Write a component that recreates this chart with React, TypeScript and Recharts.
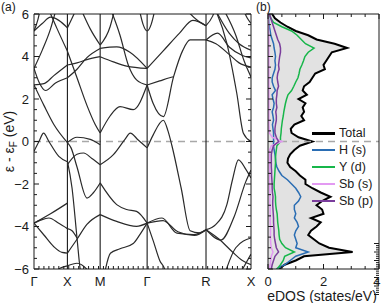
import React from 'react';
import { ComposedChart, Line, Area, XAxis, YAxis, ReferenceLine, Legend, Label } from 'recharts';

const FONT = '"Liberation Sans", Arial, Helvetica, sans-serif';
const INK = '#1a1a1a';
const BAND = '#2a2a2a';

// high-symmetry path (k in path-length units)
const kPoints = [0, 1.01, 2.0, 3.42, 5.2, 6.56];
const kLabels = ['Γ', 'X', 'M', 'Γ', 'R', 'X'];

// bands as [k, E(eV)], per path segment
const bandsGX = [
  [[0, 5.2], [0.25, 5.55], [0.5, 5.85], [0.75, 5.7], [1.01, 5.35]],
  [[0, 5.2], [0.12, 5.75], [0.2, 6.3]],
  [[0.42, 6.3], [0.7, 5.3], [1.01, 4.25]],
  [[0, 3.44], [0.25, 4.3], [0.5, 5.3], [0.68, 6.3]],
  [[0, 3.44], [0.15, 2.8], [0.35, 2.4], [0.65, 2.75], [1.01, 3.0]],
  [[0, 2.66], [0.3, 2.72], [0.6, 3.1], [1.01, 3.6]],
  [[0, 2.66], [0.3, 1.7], [0.6, 0.8], [1.01, -0.05]],
  [[0, -0.46], [0.15, 0.0], [0.29, 0.39], [0.45, 0.0], [0.75, -0.7], [1.01, -0.95]],
  [[0, -3.84], [0.5, -3.4], [1.01, -2.9]],
  [[0, -3.84], [0.2, -3.7], [0.45, -3.6], [0.75, -3.85], [1.01, -4.1]],
  [[0, -3.84], [0.3, -4.4], [0.6, -4.95], [0.85, -5.22], [1.01, -5.25]],
  [[0.6, -6.2], [0.8, -5.95], [1.01, -5.85]],
];
const bandsXM = [
  [[1.01, 5.35], [1.15, 5.8], [1.3, 6.3]],
  [[1.4, 6.3], [1.7, 5.3], [2.0, 4.54]],
  [[1.01, 4.25], [1.3, 3.0], [1.6, 1.7], [1.85, 0.8], [2.0, 0.4]],
  [[1.01, 3.6], [1.3, 3.7], [1.6, 3.85], [2.0, 3.99]],
  [[1.01, 3.0], [1.3, 3.4], [1.6, 3.95], [2.0, 4.38]],
  [[1.01, -0.05], [1.3, 0.2], [1.7, 0.1], [2.0, -0.15]],
  [[1.01, -1.09], [1.3, -0.6], [1.5, -0.54], [1.75, -0.8], [2.0, -1.09]],
  [[1.01, -0.92], [1.15, -2.19], [1.3, -4.54], [1.4, -6.05], [1.43, -6.3]],
  [[1.01, -0.05], [1.12, -0.3], [1.3, -1.2], [1.6, -2.66], [1.8, -2.4], [2.0, -1.95]],
  [[1.01, -4.1], [1.15, -4.2], [1.3, -4.54]],
  [[1.01, -5.25], [1.3, -4.6], [1.6, -3.9], [2.0, -3.44]],
  [[1.01, -5.85], [1.3, -5.73], [1.65, -6.1], [1.75, -6.3]],
];
const bandsMG = [
  [[2.0, 4.54], [2.3, 5.4], [2.45, 6.3]],
  [[2.3, 6.3], [2.6, 5.0], [2.85, 3.6], [3.1, 2.9], [3.42, 2.66]],
  [[2.0, 3.99], [2.4, 3.75], [2.8, 3.55], [3.42, 3.44]],
  [[2.0, 4.38], [2.5, 4.45], [2.9, 4.2], [3.42, 3.44]],
  [[2.0, 0.4], [2.3, 1.2], [2.6, 1.64], [3.0, 1.5], [3.42, 2.66]],
  [[2.0, -1.09], [2.4, -0.62], [2.75, 0.1], [2.91, 0.39], [3.15, 0.07], [3.42, -0.3]],
  [[2.0, -1.95], [2.5, -2.97], [2.8, -3.2], [3.1, -3.29], [3.42, -3.84]],
  [[2.0, -3.44], [2.5, -3.76], [3.1, -3.99], [3.42, -3.84]],
  [[2.12, -6.3], [2.31, -5.26], [2.6, -5.05], [3.0, -4.8], [3.2, -4.38], [3.42, -3.84]],
];
const bandsGR = [
  [[3.2, 6.1], [3.3, 5.5], [3.42, 5.2], [3.54, 5.5], [3.64, 6.1]],
  [[3.42, 3.44], [3.9, 4.25], [4.4, 5.1], [4.8, 5.7], [5.2, 5.45]],
  [[4.55, 6.3], [4.9, 5.75], [5.2, 5.45]],
  [[3.42, 2.66], [3.6, 1.8], [3.91, 1.17], [4.22, 3.05], [4.5, 4.3], [4.72, 4.78], [5.2, 4.78]],
  [[3.42, 2.66], [3.8, 2.85], [4.1, 3.0], [4.22, 3.05]],
  [[3.42, -0.3], [3.6, 0.3], [3.91, 1.0], [4.05, 0.5], [4.17, -0.2], [4.45, -2.2], [4.72, -4.2], [5.0, -4.3], [5.2, -4.15]],
  [[3.42, -3.84], [3.87, -3.6], [4.32, -4.31], [4.82, -4.38], [5.2, -4.15]],
  [[3.42, -3.84], [3.9, -3.72], [4.35, -4.25], [4.85, -4.42], [5.2, -4.15]],
  [[3.42, -3.84], [3.61, -4.7], [3.8, -5.6], [3.97, -6.1], [4.0, -6.3]],
];
const bandsRX = [
  [[5.2, 5.45], [5.4, 5.9], [5.5, 6.3]],
  [[5.2, 4.78], [5.5, 4.6], [5.9, 4.1], [6.2, 3.7], [6.56, 3.5]],
  [[5.2, 4.78], [5.55, 5.1], [5.9, 4.45], [6.3, 4.05], [6.56, 3.93]],
  [[5.45, 6.3], [5.9, 5.1], [6.2, 4.6], [6.56, 4.3]],
  [[5.45, 6.3], [5.53, 6.03], [5.83, 4.62], [6.13, 2.27], [6.33, 0.39], [6.56, 0.0]],
  [[5.7, 6.3], [6.1, 5.0], [6.35, 3.8], [6.56, 3.04]],
  [[6.3, 6.3], [6.45, 5.8], [6.56, 5.56]],
  [[5.2, -4.15], [5.5, -3.9], [5.83, -2.97], [6.0, -1.8], [6.18, -0.86], [6.4, -1.3], [6.56, -1.72]],
  [[5.2, -4.15], [5.6, -4.6], [6.0, -5.2], [6.3, -5.6], [6.56, -5.8]],
  [[5.2, -4.15], [5.65, -4.64], [6.05, -3.54], [6.4, -1.9], [6.56, -1.34]],
  [[5.75, -6.3], [6.1, -5.0], [6.56, -4.54]],
  [[6.2, -6.3], [6.56, -5.3]],
];

// density of states, states/eV
const energies = [
  -6, -5.8, -5.6, -5.4, -5.2, -5, -4.8, -4.6, -4.4, -4.2, -4, -3.8, -3.6, -3.4, -3.2, -3, -2.8, -2.6, -2.4, -2.2,
  -2, -1.8, -1.6, -1.4, -1.2, -1, -0.8, -0.6, -0.4, -0.2, 0, 0.2, 0.4, 0.6, 0.8, 1, 1.2, 1.4, 1.6, 1.8,
  2, 2.2, 2.4, 2.6, 2.8, 3, 3.2, 3.4, 3.6, 3.8, 4, 4.2, 4.4, 4.6, 4.8, 5, 5.2, 5.4, 5.6, 5.8, 6,
];
const dosTotal = [
  0.4, 0.6, 1.0, 1.3, 3.05, 2.2, 1.85, 1.65, 1.45, 1.55, 1.75, 1.9, 1.55, 2.0, 1.95, 1.75, 1.95, 2.25, 1.9, 1.6,
  1.35, 1.35, 1.15, 1.0, 0.8, 0.7, 0.72, 0.8, 0.95, 1.15, 1.6, 1.1, 0.85, 0.82, 0.95, 1.3, 1.2, 1.3, 1.25, 1.35,
  1.1, 1.4, 1.25, 1.3, 1.5, 1.6, 1.7, 2.05, 2.0, 2.1, 2.2, 2.3, 2.85, 2.4, 1.75, 1.45, 1.0, 0.7, 0.45, 0.25, 0.15,
];
const dosH = [
  0.3, 0.6, 0.8, 1.0, 1.45, 1.0, 1.05, 1.0, 0.95, 1.0, 1.1, 1.05, 0.95, 1.0, 0.95, 0.95, 1.1, 1.18, 1.1, 1.0,
  0.85, 0.7, 0.5, 0.4, 0.32, 0.28, 0.27, 0.25, 0.22, 0.2, 0.2, 0.2, 0.2, 0.18, 0.16, 0.2, 0.18, 0.15, 0.2, 0.22,
  0.18, 0.15, 0.27, 0.2, 0.15, 0.15, 0.2, 0.25, 0.27, 0.25, 0.27, 0.25, 0.22, 0.2, 0.15, 0.1, 0.08, 0.05, 0.03, 0.02, 0.01,
];
const dosYd = [
  0.33, 0.45, 0.55, 0.6, 0.95, 0.63, 0.5, 0.42, 0.4, 0.39, 0.37, 0.35, 0.34, 0.33, 0.3, 0.28, 0.27, 0.27, 0.25, 0.22,
  0.22, 0.23, 0.24, 0.25, 0.26, 0.27, 0.27, 0.28, 0.3, 0.32, 0.45, 0.45, 0.47, 0.48, 0.5, 0.52, 0.55, 0.57, 0.6, 0.63,
  0.67, 0.72, 0.85, 0.93, 1.0, 1.08, 1.12, 1.15, 1.22, 1.28, 1.33, 1.45, 1.66, 1.35, 1.2, 1.05, 0.85, 0.5, 0.2, 0.1, 0.05,
];
const dosSbS = [
  0.05, 0.08, 0.1, 0.12, 0.18, 0.12, 0.1, 0.09, 0.09, 0.09, 0.09, 0.08, 0.08, 0.08, 0.08, 0.07, 0.07, 0.07, 0.07, 0.06,
  0.06, 0.06, 0.06, 0.06, 0.05, 0.05, 0.05, 0.05, 0.06, 0.12, 0.5, 0.15, 0.05, 0.04, 0.03, 0.03, 0.03, 0.03, 0.03, 0.03,
  0.03, 0.03, 0.03, 0.03, 0.03, 0.03, 0.03, 0.03, 0.03, 0.03, 0.03, 0.03, 0.03, 0.03, 0.03, 0.03, 0.02, 0.02, 0.02, 0.01, 0.01,
];
const dosSbP = [
  0.12, 0.15, 0.2, 0.25, 0.38, 0.3, 0.27, 0.24, 0.22, 0.22, 0.21, 0.2, 0.2, 0.19, 0.18, 0.17, 0.17, 0.18, 0.16, 0.15,
  0.15, 0.14, 0.13, 0.13, 0.12, 0.12, 0.12, 0.12, 0.15, 0.2, 0.38, 0.3, 0.25, 0.25, 0.27, 0.3, 0.3, 0.28, 0.32, 0.3,
  0.3, 0.32, 0.33, 0.38, 0.35, 0.33, 0.35, 0.4, 0.38, 0.4, 0.42, 0.45, 0.45, 0.42, 0.35, 0.3, 0.25, 0.2, 0.15, 0.1, 0.05,
];

const dosSeries = [
  { key: 'total', name: 'Total', color: '#000000', width: 2 },
  { key: 'h', name: 'H (s)', color: '#2a6db3', width: 1.5 },
  { key: 'yd', name: 'Y (d)', color: '#17b64a', width: 1.5 },
  { key: 'sbs', name: 'Sb (s)', color: '#e39af2', width: 1.5 },
  { key: 'sbp', name: 'Sb (p)', color: '#7a3d9c', width: 1.5 },
];

const dosRows = energies.map((e, i) => ({
  e,
  total: dosTotal[i],
  h: dosH[i],
  yd: dosYd[i],
  sbs: dosSbS[i],
  sbp: dosSbP[i],
}));

const allBands = [...bandsGX, ...bandsXM, ...bandsMG, ...bandsGR, ...bandsRX].map((b) =>
  b.map(([k, e]) => ({ k, e }))
);

// axis tick positions
const eTicks: number[] = [];
for (let v = -6; v <= 6.001; v += 0.5) eTicks.push(Math.round(v * 10) / 10);
const kTicks: number[] = [...kPoints];
for (let v = 0.15; v < 6.5; v += 0.15) kTicks.push(Math.round(v * 100) / 100);
kTicks.sort((a, b) => a - b);
const dosTicks = [0, 0.5, 1, 1.5, 2, 2.5, 3, 3.5, 4];

const fmt = (v: number) => (v < 0 ? '\u2212' + Math.abs(v) : String(v));
const isMajor = (v: number) => Math.abs(v / 2 - Math.round(v / 2)) < 1e-6;

const LeftTick = (props: any) => {
  const { x, y, payload, showLabel } = props;
  const v = payload.value;
  const major = isMajor(v);
  return (
    <g>
      <line x1={x} x2={x + (major ? 5 : 3)} y1={y} y2={y} stroke={INK} />
      {showLabel && major && (
        <text x={x - 5} y={y} dy={4.6} textAnchor="end" fontFamily={FONT} fontSize={13} fill={INK}>
          {fmt(v)}
        </text>
      )}
    </g>
  );
};

const RightTick = (props: any) => {
  const { x, y, payload } = props;
  const major = isMajor(payload.value);
  return <line x1={x} x2={x - (major ? 5 : 3)} y1={y} y2={y} stroke={INK} />;
};

const TopTick = (props: any) => {
  const { x, y, payload, majorLen } = props;
  const len = majorLen && isMajor(payload.value) ? 5 : 3;
  return <line x1={x} x2={x} y1={y} y2={y + len} stroke={INK} />;
};

const BottomTickK = (props: any) => {
  const { x, y, payload } = props;
  const idx = kPoints.findIndex((p) => Math.abs(p - payload.value) < 1e-6);
  if (idx >= 0) {
    return (
      <text x={x} y={y + 16.5} textAnchor="middle" fontFamily={FONT} fontSize={13} fill={INK}>
        {kLabels[idx]}
      </text>
    );
  }
  return <line x1={x} x2={x} y1={y} y2={y - 3} stroke={INK} />;
};

const BottomTickDos = (props: any) => {
  const { x, y, payload } = props;
  const v = payload.value;
  const major = isMajor(v);
  const last = v === dosTicks[dosTicks.length - 1];
  return (
    <g>
      <line x1={x} x2={x} y1={y} y2={y - (major ? 5 : 3)} stroke={INK} />
      {major && (
        <text x={last ? x + 1.5 : x} y={y + 17} textAnchor={last ? 'end' : 'middle'} fontFamily={FONT} fontSize={13} fill={INK}>
          {v}
        </text>
      )}
    </g>
  );
};

const DosLegend = () => (
  <div style={{ fontFamily: FONT, fontSize: 12.5, color: INK }}>
    {dosSeries.map((s) => (
      <div key={s.key} style={{ display: 'flex', alignItems: 'center', height: 17, whiteSpace: 'nowrap' }}>
        <span style={{ display: 'inline-block', width: 23, height: 0, borderTop: `${s.key === 'total' ? 3 : 2.5}px solid ${s.color}`, marginRight: 4 }} />
        <span>{s.name}</span>
      </div>
    ))}
  </div>
);

const axisLine = { stroke: INK, strokeWidth: 1 };

export default function App() {
  return (
    <div style={{ position: 'absolute', left: 0, top: 0, width: 381, height: 303, background: '#fff' }}>
      <div style={{ position: 'absolute', left: 0, top: 0 }}>
        <ComposedChart width={260} height={303} margin={{ top: 13, right: 8, bottom: 33, left: 33 }}>
          <XAxis xAxisId={0} dataKey="k" type="number" domain={[0, 6.56]} ticks={kTicks} interval={0}
            height={1} tickSize={0} tickMargin={0} tickLine={false} axisLine={axisLine} allowDataOverflow
            tick={(p: any) => <BottomTickK {...p} />} />
          <XAxis xAxisId="top" orientation="top" type="number" domain={[0, 6.56]} ticks={kTicks} interval={0}
            height={1} tickSize={0} tickMargin={0} tickLine={false} axisLine={axisLine} allowDataOverflow
            tick={(p: any) => <TopTick {...p} />} />
          <YAxis yAxisId={0} type="number" domain={[-6, 6]} ticks={eTicks} interval={0} width={1}
            tickSize={0} tickMargin={0} tickLine={false} axisLine={axisLine} allowDataOverflow
            tick={(p: any) => <LeftTick {...p} showLabel />}>
            <Label content={() => (
              <text x={14} y={141.5} transform="rotate(-90 14 141.5)" textAnchor="middle" fontFamily={FONT} fontSize={14} fill={INK}>
                ε - ε<tspan fontSize={10} dy={3}>F</tspan><tspan dy={-3}> (eV)</tspan>
              </text>
            )} />
          </YAxis>
          <YAxis yAxisId="right" orientation="right" type="number" domain={[-6, 6]} ticks={eTicks} interval={0} width={1}
            tickSize={0} tickMargin={0} tickLine={false} axisLine={axisLine} allowDataOverflow
            tick={(p: any) => <RightTick {...p} />} />
          <ReferenceLine y={0} stroke="#a8a8a8" strokeWidth={1.3} strokeDasharray="7 5" />
          {kPoints.slice(1, 5).map((k, i) => (
            <ReferenceLine key={'v' + i} x={k} stroke={INK} strokeWidth={1.1} />
          ))}
          {allBands.map((b, i) => (
            <Line key={'b' + i} data={b} dataKey="e" type="monotone" stroke={BAND} strokeWidth={1.2}
              dot={false} activeDot={false} isAnimationActive={false} />
          ))}
        </ComposedChart>
      </div>
      <div style={{ position: 'absolute', left: 250, top: 0 }}>
        <ComposedChart layout="vertical" width={131} height={303} data={dosRows}
          margin={{ top: 13, right: 1, bottom: 33, left: 17 }}>
          <XAxis xAxisId={0} type="number" domain={[0, 4]} ticks={dosTicks} interval={0}
            height={1} tickSize={0} tickMargin={0} tickLine={false} axisLine={axisLine} allowDataOverflow
            tick={(p: any) => <BottomTickDos {...p} />}>
            <Label content={() => (
              <text x={72} y={300.5} textAnchor="middle" fontFamily={FONT} fontSize={14} fill={INK}>
                eDOS (states/eV)
              </text>
            )} />
          </XAxis>
          <XAxis xAxisId="top" orientation="top" type="number" domain={[0, 4]} ticks={dosTicks} interval={0}
            height={1} tickSize={0} tickMargin={0} tickLine={false} axisLine={axisLine} allowDataOverflow
            tick={(p: any) => <TopTick {...p} majorLen />} />
          <YAxis yAxisId={0} dataKey="e" type="number" domain={[-6, 6]} reversed ticks={eTicks} interval={0} width={1}
            tickSize={0} tickMargin={0} tickLine={false} axisLine={axisLine} allowDataOverflow
            tick={(p: any) => <LeftTick {...p} />} />
          <YAxis yAxisId="right" orientation="right" type="number" domain={[-6, 6]} reversed ticks={eTicks} interval={0} width={1}
            tickSize={0} tickMargin={0} tickLine={false} axisLine={axisLine} allowDataOverflow
            tick={(p: any) => <RightTick {...p} />} />
          <Area dataKey="total" name="Total" type="linear" stroke="#000" strokeWidth={2} fill="#e2e2e2"
            fillOpacity={1} dot={false} activeDot={false} isAnimationActive={false} />
          <ReferenceLine y={0} stroke="#a8a8a8" strokeWidth={1.3} strokeDasharray="7 5" />
          {dosSeries.slice(1).map((s) => (
            <Line key={s.key} dataKey={s.key} name={s.name} type="linear" stroke={s.color} strokeWidth={s.width}
              dot={false} activeDot={false} isAnimationActive={false} />
          ))}
          <Legend content={DosLegend} layout="vertical" align="center" verticalAlign="middle"
            wrapperStyle={{ left: 62, top: 124.5, width: 70 }} />
        </ComposedChart>
      </div>
      <div style={{ position: 'absolute', left: 1, top: 1, fontFamily: FONT, fontSize: 12, lineHeight: '12px', color: INK }}>(a)</div>
      <div style={{ position: 'absolute', left: 256, top: 1, fontFamily: FONT, fontSize: 12, lineHeight: '12px', color: INK }}>(b)</div>
    </div>
  );
}
